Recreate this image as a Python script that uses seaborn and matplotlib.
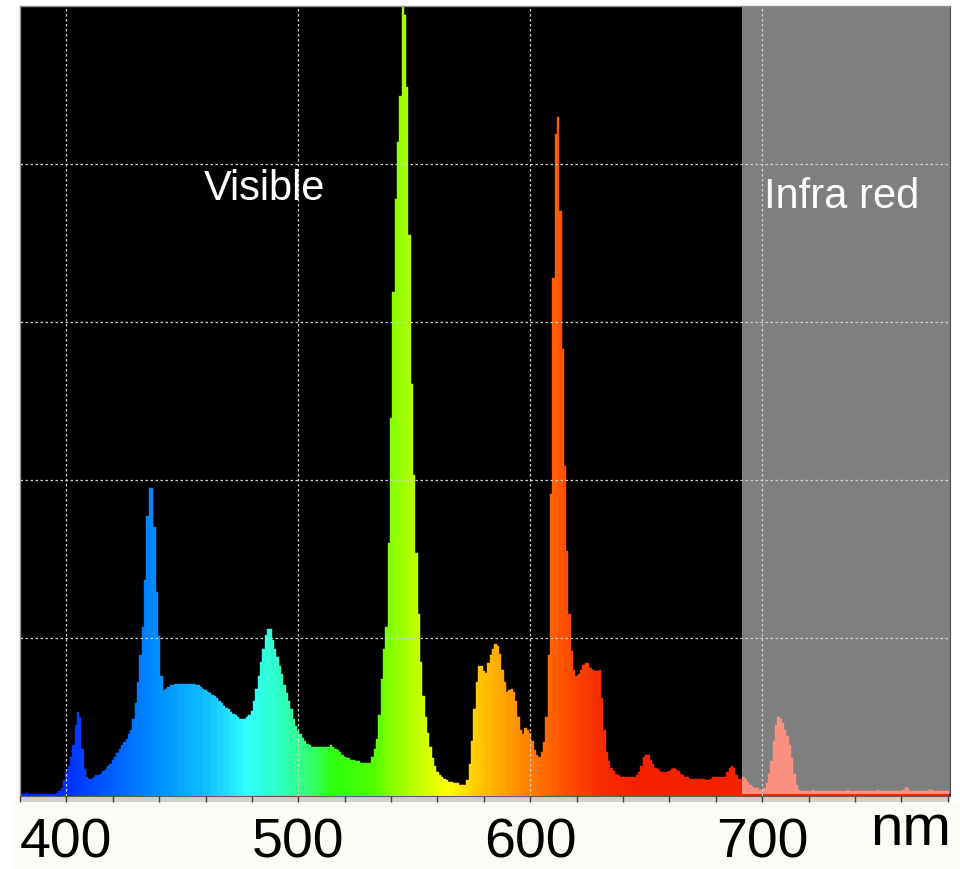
import numpy as np
import matplotlib
matplotlib.use("Agg")
import matplotlib.pyplot as plt
from matplotlib.colors import LinearSegmentedColormap
from matplotlib.patches import Rectangle
import seaborn as sns

# spectrum, 1 nm steps from 380 to 780 nm
wavelength = np.arange(380, 781)
intensity = [
    0.02, 0.015, 0.015, 0.02, 0.015, 0.015, 0.01, 0.015, 0.015, 0.015,   # 380
    0.015, 0.015, 0.015, 0.015, 0.015, 0.015, 0.02, 0.03, 0.05, 0.10,    # 390
    0.15, 0.19, 0.25, 0.32, 0.45, 0.53, 0.50, 0.30, 0.17, 0.12,          # 400
    0.11, 0.11, 0.12, 0.13, 0.13, 0.14, 0.16, 0.17, 0.19, 0.20,          # 410
    0.23, 0.25, 0.27, 0.30, 0.32, 0.34, 0.36, 0.39, 0.42, 0.49,          # 420
    0.59, 0.72, 0.89, 1.07, 1.37, 1.77, 1.95, 1.95, 1.70, 1.29,          # 430
    1.01, 0.76, 0.67, 0.68, 0.69, 0.70, 0.70, 0.71, 0.71, 0.71,          # 440
    0.71, 0.71, 0.71, 0.71, 0.71, 0.71, 0.70, 0.70, 0.69, 0.68,          # 450
    0.67, 0.66, 0.65, 0.64, 0.63, 0.62, 0.60, 0.59, 0.57, 0.56,          # 460
    0.55, 0.53, 0.52, 0.51, 0.50, 0.49, 0.49, 0.49, 0.50, 0.51,          # 470
    0.54, 0.60, 0.68, 0.76, 0.85, 0.93, 1.02, 1.06, 1.06, 0.99,          # 480
    0.93, 0.88, 0.82, 0.77, 0.70, 0.65, 0.60, 0.55, 0.49, 0.44,          # 490
    0.41, 0.39, 0.37, 0.35, 0.33, 0.32, 0.31, 0.31, 0.31, 0.31,          # 500
    0.31, 0.31, 0.31, 0.31, 0.32, 0.31, 0.30, 0.29, 0.28, 0.26,          # 510
    0.25, 0.24, 0.24, 0.23, 0.23, 0.22, 0.22, 0.21, 0.21, 0.21,          # 520
    0.21, 0.21, 0.25, 0.30, 0.36, 0.51, 0.74, 0.93, 1.07, 1.60,          # 530
    2.39, 3.19, 3.78, 4.14, 4.43, 5.00, 4.94, 4.49, 3.55, 2.61,          # 540
    2.03, 1.54, 1.15, 0.85, 0.63, 0.50, 0.40, 0.31, 0.24, 0.19,          # 550
    0.15, 0.13, 0.12, 0.11, 0.10, 0.09, 0.09, 0.08, 0.08, 0.08,          # 560
    0.07, 0.07, 0.07, 0.10, 0.20, 0.35, 0.55, 0.72, 0.82, 0.82,          # 570
    0.79, 0.78, 0.84, 0.89, 0.93, 0.96, 0.95, 0.90, 0.80, 0.72,          # 580
    0.66, 0.67, 0.68, 0.66, 0.60, 0.50, 0.42, 0.39, 0.43, 0.42,          # 590
    0.40, 0.35, 0.29, 0.26, 0.25, 0.28, 0.34, 0.50, 0.89, 1.91,          # 600
    3.28, 4.19, 4.30, 3.70, 2.83, 2.09, 1.55, 1.15, 0.92, 0.80,          # 610
    0.76, 0.77, 0.80, 0.83, 0.84, 0.84, 0.81, 0.80, 0.79, 0.79,          # 620
    0.80, 0.62, 0.42, 0.28, 0.22, 0.18, 0.16, 0.14, 0.13, 0.12,          # 630
    0.12, 0.12, 0.12, 0.12, 0.12, 0.12, 0.13, 0.15, 0.19, 0.25,          # 640
    0.26, 0.26, 0.23, 0.20, 0.18, 0.17, 0.16, 0.15, 0.15, 0.15,          # 650
    0.16, 0.17, 0.18, 0.17, 0.16, 0.14, 0.13, 0.12, 0.12, 0.11,          # 660
    0.11, 0.11, 0.11, 0.11, 0.11, 0.11, 0.10, 0.10, 0.11, 0.12,          # 670
    0.12, 0.12, 0.12, 0.12, 0.12, 0.15, 0.18, 0.19, 0.18, 0.13,          # 680
    0.11, 0.11, 0.12, 0.11, 0.09, 0.07, 0.06, 0.05, 0.05, 0.04,          # 690
    0.04, 0.05, 0.08, 0.14, 0.22, 0.35, 0.45, 0.50, 0.49, 0.46,          # 700
    0.42, 0.38, 0.32, 0.24, 0.14, 0.07, 0.04, 0.03, 0.03, 0.03,          # 710
    0.03, 0.03, 0.04, 0.03, 0.03, 0.03, 0.03, 0.03, 0.03, 0.03,          # 720
    0.03, 0.03, 0.03, 0.03, 0.03, 0.03, 0.03, 0.04, 0.03, 0.03,          # 730
    0.03, 0.03, 0.03, 0.03, 0.03, 0.03, 0.03, 0.03, 0.03, 0.03,          # 740
    0.04, 0.03, 0.03, 0.03, 0.03, 0.03, 0.03, 0.03, 0.03, 0.03,          # 750
    0.03, 0.04, 0.06, 0.05, 0.03, 0.03, 0.03, 0.03, 0.03, 0.03,          # 760
    0.03, 0.03, 0.04, 0.04, 0.03, 0.03, 0.03, 0.03, 0.03, 0.03,          # 770
    0.03,                                                                # 780
]

x_ticks = [400, 500, 600, 700]
tick_labels = ["400", "500", "600", "700"]
ir_start = 691.3
regions = ["Visible", "Infra red"]

# colour of each wavelength (anchor points of the rainbow)
color_wl = [380, 400, 420, 440, 460, 478, 492, 505, 515, 532, 545, 556, 565, 575, 590, 605, 615, 630, 645, 780]
color_hex = ["#0028ff", "#0030ff", "#0060ff", "#0090ff", "#10c0ff", "#30ffff", "#30ffc0", "#30ff70",
             "#30ff10", "#50ff00", "#a0ff00", "#d8ff00", "#ffff00", "#ffd000", "#ffa000", "#ff7000",
             "#ff5000", "#f52e00", "#f52200", "#f52200"]
spec_cmap = LinearSegmentedColormap.from_list(
    "spec", [((w - 380) / 400, c) for w, c in zip(color_wl, color_hex)])

sns.set_style("ticks")
plt.rcParams['font.family'] = ['Liberation Sans', 'DejaVu Sans']

W, H = 960, 870
fig = plt.figure(figsize=(9.6, 8.7), dpi=100, facecolor="white")
ax = fig.add_axes([20 / W, (H - 797) / H, 930 / W, 790 / H])
ax.set_facecolor("black")

sns.histplot(x=wavelength, weights=intensity, binwidth=1, binrange=(379.5, 780.5),
             stat="count", element="bars", fill=True, ax=ax, alpha=1)
for p in ax.patches:
    c = spec_cmap((p.get_x() + p.get_width() / 2 - 380) / 400)
    p.set_facecolor(c)
    p.set_edgecolor(c)
    p.set_linewidth(0.3)

# infra red part: translucent white veil
ax.axvspan(ir_start, 781, ymin=0.003, ymax=1, facecolor="white", alpha=0.5, lw=0, zorder=2)

ax.set_xlim(380.2, 781)
ax.set_ylim(0, 5)
ax.set_xticks(x_ticks)
ax.set_xticklabels(tick_labels)
ax.set_xticks(np.arange(380, 781, 20), minor=True)
ax.set_yticks([1, 2, 3, 4])
ax.set_yticklabels([])
ax.tick_params(axis="y", length=0)
ax.tick_params(axis="x", which="both", direction="out", length=4, width=1, color="#404040",
               labelsize=40, pad=11, labelcolor="black")
ax.set_xlabel("")
ax.set_ylabel("")
ax.set_axisbelow(False)
ax.grid(True, which="major", color="#d0d0d0", linestyle=(0, (2, 2)), linewidth=0.9)

for s in ["top", "left"]:
    ax.spines[s].set_color("#909090")
    ax.spines[s].set_linewidth(1)
ax.spines["right"].set_color("#505050")
ax.spines["bottom"].set_color("#606060")

# grey tick strip and cream label area under the plot
fig.add_artist(Rectangle((20 / W, (H - 803) / H), 930 / W, 6 / H, transform=fig.transFigure,
                         facecolor="#d4d0c8", lw=0, zorder=-1))
fig.add_artist(Rectangle((13 / W, 0), 1, (H - 803) / H, transform=fig.transFigure,
                         facecolor="#fcfcf6", lw=0, zorder=-2))

ax.text(485.5, 3.85, regions[0], color="white", fontsize=30, ha="center", va="center")
ax.text(734.3, 3.80, regions[1], color="white", fontsize=30, ha="center", va="center")
fig.text(951 / W, (H - 845) / H, "nm", fontsize=42, ha="right", va="baseline", color="black")

fig.savefig("out.png", dpi=100, facecolor=fig.get_facecolor())
